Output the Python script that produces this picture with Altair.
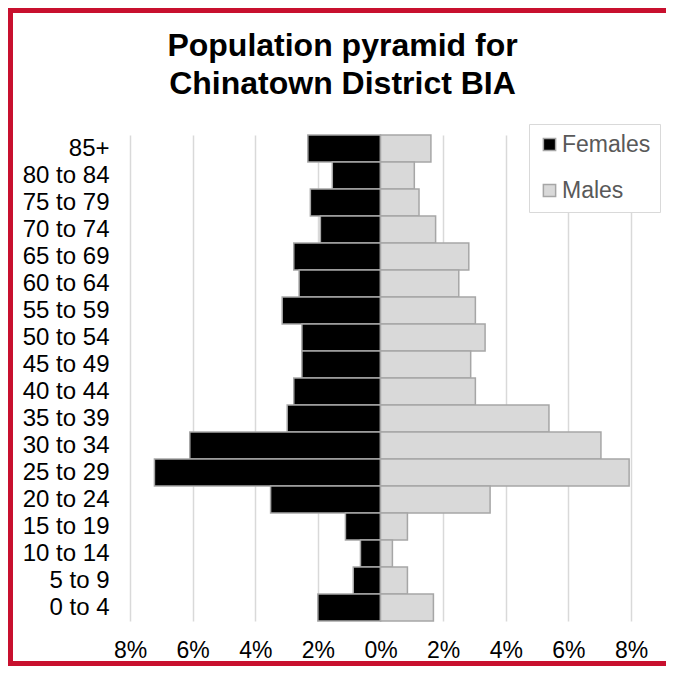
import altair as alt
import pandas as pd

ages = ["85+", "80 to 84", "75 to 79", "70 to 74", "65 to 69", "60 to 64",
        "55 to 59", "50 to 54", "45 to 49", "40 to 44", "35 to 39", "30 to 34",
        "25 to 29", "20 to 24", "15 to 19", "10 to 14", "5 to 9", "0 to 4"]
females = [2.32, 1.54, 2.24, 1.92, 2.77, 2.60, 3.14, 2.51, 2.51, 2.77, 2.98,
           6.09, 7.22, 3.51, 1.12, 0.64, 0.87, 2.00]
males = [1.61, 1.08, 1.23, 1.76, 2.82, 2.50, 3.03, 3.34, 2.88, 3.03, 5.38,
         7.04, 7.94, 3.50, 0.86, 0.38, 0.86, 1.69]
sexes = ["Females", "Males"]
x_ticks = [-8, -6, -4, -2, 0, 2, 4, 6, 8]

rows = []
for a, f, m in zip(ages, females, males):
    rows.append({"age": a, "sex": "Females", "value": -f})
    rows.append({"age": a, "sex": "Males", "value": m})
df = pd.DataFrame(rows)

FONT = "Liberation Sans"

bars = alt.Chart(df).mark_bar(stroke="#a6a6a6", strokeWidth=1.5).encode(
    y=alt.Y("age:N", sort=ages, title=None,
            scale=alt.Scale(paddingInner=0, paddingOuter=0),
            axis=alt.Axis(labelFontSize=24, labelFont=FONT, labelColor="black",
                          labelPadding=21, ticks=False, domain=False, grid=False)),
    x=alt.X("value:Q", title=None,
            scale=alt.Scale(domain=[-8, 8], nice=False),
            axis=alt.Axis(values=x_ticks, labelExpr="abs(datum.value) + '%'",
                          labelFontSize=23, labelFont=FONT, labelColor="black",
                          labelPadding=18, labelFlush=False, labelOverlap=False,
                          labelBound=False, ticks=False, domain=False,
                          grid=True, gridColor="#d9d9d9", gridWidth=1.5)),
    color=alt.Color("sex:N", scale=alt.Scale(domain=sexes, range=["#000000", "#d9d9d9"]),
                    legend=alt.Legend(title=None, orient="none", legendX=399, legendY=-11,
                                      labelFontSize=23, labelFont=FONT, labelColor="#595959",
                                      symbolType="square", symbolSize=150,
                                      symbolStrokeColor="#a6a6a6", symbolStrokeWidth=1.5,
                                      rowPadding=22, padding=9, labelOffset=1,
                                      strokeColor="#d9d9d9", fillColor="white")),
)

frame = alt.Chart(pd.DataFrame({"frame": [1]})).mark_rect(
    fillOpacity=0, stroke="#c8102e", strokeWidth=5
).encode(
    x=alt.value(-119.5), x2=alt.value(560),
    y=alt.value(-124.5), y2=alt.value(528.5),
)

chart = alt.layer(bars, frame).properties(
    width=501, height=486,
    padding={"left": 122, "top": 127, "right": 35, "bottom": 45},
    autosize=alt.AutoSizeParams(type="none"),
    title=alt.TitleParams(["Population pyramid for", "Chinatown District BIA"],
                          fontSize=32, font=FONT, fontWeight="bold", color="black",
                          anchor="middle", dx=-38, dy=123, lineHeight=38, offset=30),
).configure_view(stroke=None)

chart.save("out.html", embed_options={"renderer": "svg", "actions": False})
